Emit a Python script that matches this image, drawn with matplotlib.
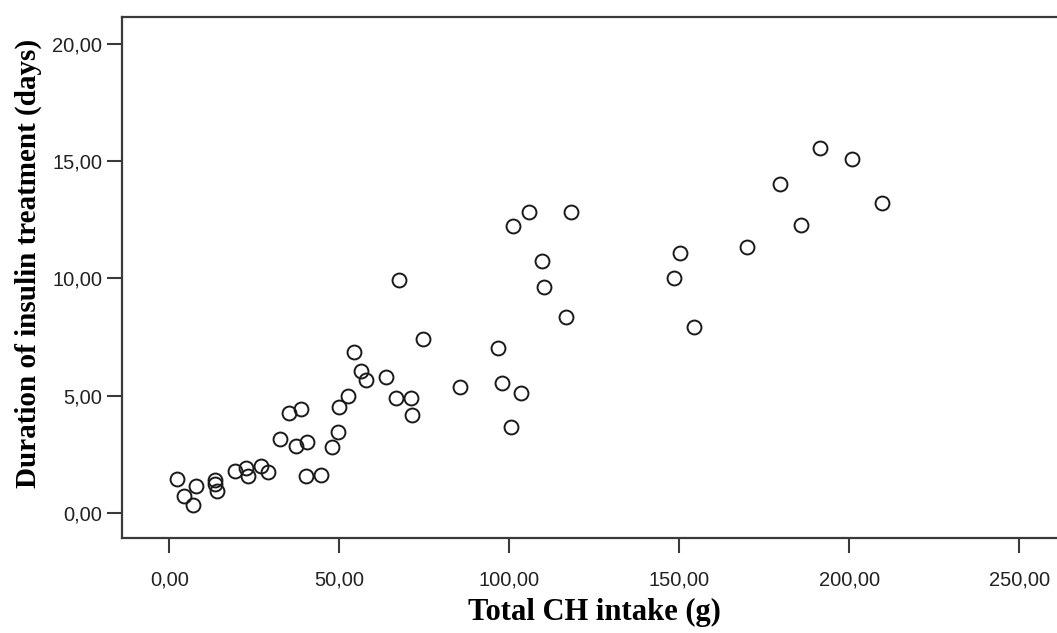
import matplotlib
matplotlib.use("Agg")
import matplotlib.pyplot as plt

# Total CH intake (g) vs. duration of insulin treatment (days)
ch_intake = [
    2.4, 8.0, 4.4, 6.9, 13.3, 13.5, 13.9, 19.2, 22.5, 23.1,
    26.9, 29.1, 32.7, 35.1, 38.7, 37.4, 40.5, 40.2, 44.6, 48.0,
    49.5, 49.8, 52.6, 54.4, 56.5, 57.9, 63.7, 66.7, 71.0, 71.3,
    74.6, 85.4, 67.7, 96.6, 97.9, 103.4, 100.6, 101.0, 105.7, 118.1,
    109.6, 110.2, 116.7, 150.1, 148.5, 154.3, 170.0, 179.5, 185.9, 191.5,
    200.8, 209.7,
]
insulin_days = [
    1.42, 1.13, 0.71, 0.35, 1.39, 1.22, 0.92, 1.79, 1.89, 1.57,
    1.99, 1.74, 3.13, 4.24, 4.42, 2.86, 3.00, 1.55, 1.60, 2.81,
    3.45, 4.52, 4.99, 6.85, 6.06, 5.66, 5.80, 4.88, 4.88, 4.17,
    7.40, 5.35, 9.91, 7.03, 5.55, 5.09, 3.67, 12.24, 12.85, 12.83,
    10.75, 9.65, 8.37, 11.08, 10.01, 7.91, 11.32, 14.04, 12.26, 15.58,
    15.08, 13.20,
]
x_ticks = [0, 50, 100, 150, 200, 250]
y_ticks = [0, 5, 10, 15, 20]

W, H = 1057, 633
fig = plt.figure(figsize=(W / 100, H / 100), dpi=100)
# axes box in pixels: left 122, top 17, bottom 538, right edge runs off the image
left, top, bottom, right = 121.7, 17.3, 538.3, 1062.0
ax = fig.add_axes([left / W, 1 - bottom / H, (right - left) / W, (bottom - top) / H])

ax.plot(ch_intake, insulin_days, linestyle="none", marker="o", markersize=10,
        markerfacecolor="none", markeredgecolor="#1a1a1a", markeredgewidth=1.4)

ax.set_xlim(-14.0, 262.6)
ax.set_ylim(-1.09, 21.14)
ax.set_xticks(x_ticks, labels=[f"{v:.2f}".replace(".", ",") for v in x_ticks])
ax.set_yticks(y_ticks, labels=[f"{v:.2f}".replace(".", ",") for v in y_ticks])

for side in ["left", "bottom", "top", "right"]:
    ax.spines[side].set_color("#3a3a3a")
    ax.spines[side].set_linewidth(1.6)
ax.tick_params(direction="out", length=11, width=1.5, color="#3a3a3a",
               labelsize=14.5, labelcolor="#222222", pad=3)
ax.tick_params(axis="x", pad=12)
for lab in ax.get_xticklabels() + ax.get_yticklabels():
    lab.set_family("Liberation Sans")

fig.text(594 / W, 1 - 612 / H, "Total CH intake (g)", ha="center", va="center",
         family="Liberation Serif", fontweight="bold", fontsize=22)
fig.text(28 / W, 1 - 263 / H, "Duration of insulin treatment (days)", ha="center",
         va="center", rotation=90, family="Liberation Serif", fontweight="bold", fontsize=21)

fig.savefig("out.png", dpi=100)
